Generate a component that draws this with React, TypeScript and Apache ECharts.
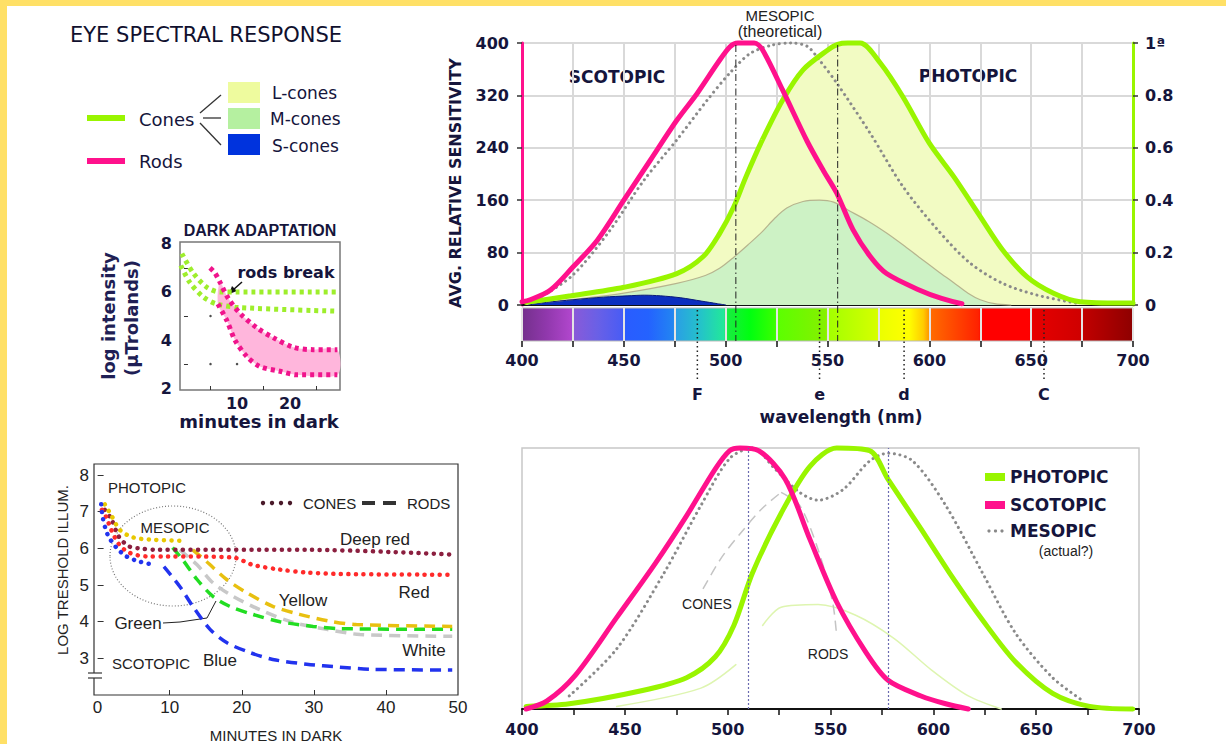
import React, { useEffect, useRef } from 'react';
import * as echarts from 'echarts';

const NAVY = '#15153c';
const PINK = '#ff118c';
const LIME = '#99f500';
const V = 'DejaVu Sans';
const A = 'Liberation Sans';

// ---------- Main spectral chart (x: nm, left y: 0-400) ----------
const rodsMain = [[400,5],[404,8],[414,23],[425,58],[437,99],[450,160],[463,221],[476,282],[486,323],[496,369],[502,394],[506,400],[514,400],[518,390],[528,328],[540,250],[548,205],[554.5,171],[562.5,115],[571,74],[579,48],[595,23],[606,10],[616,2]];
const photopicMain = [[402,4],[424,14],[450,27],[476,48],[489,74],[497,109],[504,150],[510,196],[518,252],[528,313],[538,359],[550,389],[555,398],[560,400],[566,400],[576,369],[587,318],[600,247],[612,196],[625,135],[636,84],[648,43],[661,18],[674,5],[694,3],[700,3]];
const mesopicTheoretical = [[405,5],[424,43],[442,109],[460,191],[476,252],[491,313],[502,354],[512,384],[523,397],[532,400],[540,395],[546,374],[554.5,339],[571,262],[587,181],[604,115],[620,64],[636,33],[653,15],[672,3]];
const mConesMain = [[404,2],[430,10],[450,18],[476,33],[490,45],[497,56],[504,73],[511,92],[518,112],[524,132],[530,148],[538,158],[546,160],[553,157],[560,145],[570,128],[579,110],[587,92],[595,73],[604,52],[612,34],[619,18],[625,8],[632,2],[640,0]];
const sConesMain = [[403,0],[412,4],[425,8],[440,12],[452,14],[460,15],[468,14],[478,11],[488,6],[496,2],[500,0]];
const mesopicMarks = [505, 555];
const spectrumStops: Array<[number, string]> = [
  [400,'#74308c'],[412,'#9038ac'],[424,'#b046cc'],[425,'#8a5ad8'],[437,'#6a60e6'],[449,'#4a5cf4'],[450,'#2a5cff'],[462,'#2462ff'],[474,'#2284f2'],[476,'#2aa0e4'],[488,'#24c4c8'],[499,'#22e89a'],[501,'#18ec40'],[512,'#00ff10'],[524,'#38ff00'],[526,'#5cff00'],[549,'#86f000'],[551,'#a4ff00'],[574,'#d4ff00'],[576,'#ecff00'],[590,'#ffff00'],[597,'#ffcc00'],[600,'#ff9400'],[601,'#ff6a00'],[624,'#ff2200'],[626,'#ff0000'],[649,'#ff0000'],[651,'#e60000'],[674,'#d00000'],[676,'#c00000'],[700,'#8e0000'],
];
const fraunhoferNm = [486.1, 546.1, 587.6, 656.3];
const fraunhoferLabels = ['F', 'e', 'd', 'C'];

// ---------- Small dark adaptation chart ----------
const daConesUpper = [[-0.4,7.6],[1.7,6.8],[4.3,6.2],[6.8,6.0],[10,6.0],[28.9,6.0]];
const daConesLower = [[-0.6,7.1],[1.1,6.4],[3.6,5.8],[6.2,5.5],[10.6,5.35],[28.9,5.2]];
const daRodsUpper = [[4.9,7.0],[5.8,6.8],[6.8,6.4],[8.3,5.75],[10.6,5.1],[13.8,4.5],[16.8,4.1],[20.6,3.7],[24.3,3.6],[28.9,3.6]];
const daRodsLower = [[6.4,5.5],[8.1,4.8],[9.6,4.0],[11.9,3.3],[14.3,2.9],[18.1,2.7],[21.3,2.55],[28.9,2.55]];
const daGridDots = [[5,5],[5,3],[10,3]];

// ---------- Threshold vs minutes in dark ----------
const blDeepRedCones = [[1,7.05],[1.9,6.8],[3,6.3],[4.4,6.05],[5.8,6.0],[8.2,5.96],[29,5.96],[49.2,5.83]];
const blRedCones = [[0.6,7.05],[1.2,6.85],[1.9,6.5],[3,6.1],[4.4,5.88],[6.8,5.78],[9.6,5.78],[18.8,5.75],[21.5,5.55],[25.3,5.42],[29,5.34],[33.6,5.3],[49.2,5.28]];
const blYellowCones = [[1,7.2],[1.9,6.9],[3.1,6.5],[4.9,6.3],[7.2,6.24],[12.3,6.2]];
const blYellowRods = [[13.2,5.96],[15.1,5.64],[17.9,5.15],[20.6,4.8],[24.3,4.42],[28,4.2],[32.6,4.0],[35.9,3.92],[49.2,3.87]];
const blBlueCones = [[0.5,7.2],[0.7,6.85],[1.4,6.37],[2.6,6.02],[4,5.78],[5.8,5.64],[7.9,5.55]];
const blBlueRods = [[9.2,5.5],[11.4,4.96],[13.2,4.42],[15.6,3.79],[17.9,3.43],[21.1,3.16],[24.3,2.97],[29,2.84],[33.6,2.76],[38.2,2.7],[49.2,2.68]];
const blGreenRods = [[10.4,6.02],[11.8,5.69],[13.8,5.15],[16,4.69],[18.3,4.42],[21.5,4.2],[25.3,4.0],[29.9,3.87],[33.6,3.81],[49.2,3.79]];
const blWhiteRods = [[11.4,5.96],[13.8,5.55],[16,5.06],[18.8,4.69],[22.5,4.33],[27.1,3.98],[31.8,3.79],[36.4,3.65],[49.2,3.6]];

// ---------- Photopic / scotopic / mesopic (0-1) ----------
const brScotopic = [[402,0],[412,0.03],[426,0.13],[446,0.35],[465,0.56],[480,0.74],[494,0.92],[501,0.99],[506,1],[515,0.99],[528,0.88],[540,0.65],[553,0.41],[567,0.22],[578,0.11],[594,0.05],[606,0.02],[617,0]];
const brPhotopic = [[402,0.01],[423,0.02],[458,0.07],[480,0.12],[494,0.2],[503,0.32],[512,0.52],[526,0.75],[540,0.93],[553,1.0],[569,0.99],[578,0.88],[594,0.69],[608,0.52],[624,0.34],[640,0.18],[658,0.06],[676,0.01],[697,0]];
const brMesopic = [[423,0.05],[446,0.23],[469,0.52],[487,0.78],[501,0.96],[512,1.0],[523,0.92],[535,0.83],[544,0.8],[556,0.84],[569,0.95],[578,0.98],[590,0.95],[606,0.78],[624,0.52],[640,0.29],[658,0.12],[673,0.03]];
const brConesDash = [[488,0.46],[497,0.58],[508,0.69],[517,0.77],[526,0.83]];
const brRodsDash = [[526,0.83],[535,0.78],[544,0.61],[551,0.41],[553,0.28]];
const brFaintLow = [[446,0.01],[487,0.08],[504,0.17]];
const brFaintHigh = [[517,0.32],[526,0.39],[544,0.4],[562,0.36],[581,0.27],[599,0.15],[617,0.05],[633,0]];
const brMarks = [510, 578];

const curve = (data: number[][], xi: number, yi: number, color: string, width: number, type: any = 'solid', cap: string = 'round', extra: any = {}) => ({
  type: 'line', xAxisIndex: xi, yAxisIndex: yi, data, showSymbol: false, symbol: 'none',
  smooth: 0.3, silent: true, clip: false,
  lineStyle: { color, width, type, cap },
  ...extra,
});

const DOTS = [0.1, 7.5];
const RDASH = [11, 7];

const txt = (x: number, y: number, text: string, font: string, fill: string = NAVY, align: string = 'center', rotation: number = 0) => ({
  type: 'text', x, y, rotation,
  style: { text, font, fill, align, verticalAlign: 'middle', textAlign: align, textVerticalAlign: 'middle' },
});

export default function App() {
  const ref = useRef<HTMLDivElement>(null);
  useEffect(() => {
    if (!ref.current) return;
    const chart = echarts.init(ref.current, undefined, { renderer: 'svg' });
    const boldLabel = { fontSize: 16, fontWeight: 'bold', fontFamily: V, color: NAVY };
    const option: any = {
      animation: false,
      backgroundColor: '#ffffff',
      textStyle: { fontFamily: V },
      grid: [
        { left: 522, top: 43, width: 611, height: 262, show: false, outerBoundsMode: 'none' },
        { left: 522, top: 308, width: 611, height: 33, show: false, outerBoundsMode: 'none' },
        { left: 522, top: 310, width: 611, height: 72, show: false, outerBoundsMode: 'none' },
        { left: 180, top: 242, width: 160, height: 148, show: true, borderColor: '#777', borderWidth: 1.5, outerBoundsMode: 'none' },
        { left: 94, top: 464, width: 364, height: 231, show: true, borderColor: '#333', borderWidth: 1.2, outerBoundsMode: 'none' },
        { left: 522, top: 448, width: 617, height: 261, show: true, borderColor: '#c8c8c8', borderWidth: 1.5, outerBoundsMode: 'none' },
      ],
      xAxis: [
        { gridIndex: 0, type: 'value', min: 400, max: 700, interval: 25, axisLabel: { show: false }, axisTick: { show: false },
          axisLine: { show: true, onZero: false, lineStyle: { color: '#111', width: 2 } },
          splitLine: { show: true, lineStyle: { color: '#d9d9d9', width: 2 } } },
        { gridIndex: 1, type: 'value', min: 400, max: 700, interval: 25, z: 10, axisLine: { show: false },
          axisTick: { show: true, length: 6, lineStyle: { color: '#111', width: 1.5 } },
          axisLabel: { show: true, margin: 11, ...boldLabel, formatter: (v: number) => (v % 50 === 0 ? String(v) : '') },
          splitLine: { show: true, lineStyle: { color: '#e4e4e4', width: 2 } } },
        { gridIndex: 2, type: 'value', min: 400, max: 700, show: false },
        { gridIndex: 3, type: 'value', min: -0.75, max: 29.4, axisLine: { show: false },
          axisTick: { show: true, inside: true, length: 4, customValues: [5, 15, 25], lineStyle: { color: '#333' } },
          axisLabel: { show: true, customValues: [10, 20], margin: 5, ...boldLabel },
          splitLine: { show: false } },
        { gridIndex: 4, type: 'value', min: -0.5, max: 50, axisLine: { show: false },
          axisTick: { show: true, inside: true, length: 5, customValues: [10, 20, 30, 40], lineStyle: { color: '#333' } },
          axisLabel: { show: true, customValues: [0, 10, 20, 30, 40, 50], margin: 4, fontSize: 17, fontFamily: A, color: '#222' },
          splitLine: { show: false } },
        { gridIndex: 5, type: 'value', min: 400, max: 700, interval: 25,
          axisLine: { show: true, onZero: false, lineStyle: { color: '#111', width: 2 } },
          axisTick: { show: true, length: 6, lineStyle: { color: '#111', width: 1.5 } },
          axisLabel: { show: true, margin: 12, ...boldLabel, formatter: (v: number) => (v % 50 === 0 ? String(v) : '') },
          splitLine: { show: false } },
      ],
      yAxis: [
        { gridIndex: 0, type: 'value', min: 0, max: 400, interval: 80, position: 'left',
          axisLine: { show: true, onZero: false, lineStyle: { color: PINK, width: 3 } },
          axisTick: { show: true, length: 5, lineStyle: { color: '#333', width: 1.5 } },
          axisLabel: { show: true, margin: 13, ...boldLabel },
          splitLine: { show: true, lineStyle: { color: '#d9d9d9', width: 2 } } },
        { gridIndex: 0, type: 'value', min: 0, max: 1, interval: 0.2, position: 'right',
          axisLine: { show: true, onZero: false, lineStyle: { color: LIME, width: 3 } },
          axisTick: { show: true, length: 5, lineStyle: { color: '#333', width: 1.5 } },
          axisLabel: { show: true, margin: 12, ...boldLabel, formatter: (v: number) => (v >= 0.999 ? '1ª' : v <= 0.001 ? '0' : v.toFixed(1)) },
          splitLine: { show: false } },
        { gridIndex: 1, type: 'value', min: 0, max: 1, show: false },
        { gridIndex: 2, type: 'value', min: 0, max: 1, show: false },
        { gridIndex: 3, type: 'value', min: 1.92, max: 8.08, axisLine: { show: false },
          axisTick: { show: true, inside: true, length: 4, customValues: [3, 5, 7], lineStyle: { color: '#333' } },
          axisLabel: { show: true, customValues: [2, 4, 6, 8], margin: 8, ...boldLabel },
          splitLine: { show: false } },
        { gridIndex: 4, type: 'value', min: 2, max: 8.3, axisLine: { show: false },
          axisTick: { show: true, inside: true, length: 6, customValues: [3, 4, 5, 6, 7, 8], lineStyle: { color: '#333' } },
          axisLabel: { show: true, customValues: [3, 4, 5, 6, 7, 8], margin: 5, fontSize: 17, fontFamily: A, color: '#222' },
          splitLine: { show: false } },
        { gridIndex: 5, type: 'value', min: 0, max: 1, show: false },
      ],
      series: [
        curve(photopicMain, 0, 0, LIME, 0, 'solid', 'round', { areaStyle: { color: '#f2fbc3', opacity: 1 } }),
        curve(mConesMain, 0, 0, '#b6b48e', 1.2, 'solid', 'round', { areaStyle: { color: '#cdf2c5', opacity: 1 } }),
        curve(sConesMain, 0, 0, '#0a1a7a', 1, 'solid', 'round', { areaStyle: { color: '#0b2fbf', opacity: 1 } }),
        curve(mesopicTheoretical, 0, 0, '#8a8a8a', 3, [0.1, 5.5], 'round'),
        curve(photopicMain, 0, 0, LIME, 5),
        curve(rodsMain, 0, 0, PINK, 5),
        {
          type: 'custom', xAxisIndex: 0, yAxisIndex: 0, silent: true, z: 5,
          data: mesopicMarks.map((v) => [v, 200]),
          renderItem: (params: any, api: any) => {
            const x = api.value(0);
            const t = api.coord([x, 400]);
            const b = api.coord([x, 0]);
            return { type: 'line', shape: { x1: t[0], y1: t[1] + 2, x2: b[0], y2: b[1] + 36 },
              style: { stroke: '#222', lineWidth: 1, lineDash: [7, 3, 1.5, 3] } };
          },
        },
        {
          type: 'custom', xAxisIndex: 1, yAxisIndex: 2, silent: true, z: 1,
          data: [[550, 0.5]],
          renderItem: (params: any, api: any) => {
            const p0 = api.coord([400, 1]);
            const p1 = api.coord([700, 0]);
            return {
              type: 'rect',
              shape: { x: p0[0], y: p0[1], width: p1[0] - p0[0], height: p1[1] - p0[1] },
              style: {
                fill: new echarts.graphic.LinearGradient(0, 0, 1, 0,
                  spectrumStops.map(([nm, c]) => ({ offset: (nm - 400) / 300, color: c }))),
                stroke: '#bbbbbb', lineWidth: 1,
              },
            };
          },
        },
        {
          type: 'custom', xAxisIndex: 2, yAxisIndex: 3, silent: true, z: 20,
          data: fraunhoferNm.map((v) => [v, 0.5]),
          renderItem: (params: any, api: any) => {
            const x = api.value(0);
            const t = api.coord([x, 1]);
            const b = api.coord([x, 0]);
            return {
              type: 'group',
              children: [
                { type: 'line', shape: { x1: t[0], y1: t[1], x2: b[0], y2: b[1] }, style: { stroke: '#222', lineWidth: 1.5, lineDash: [1.5, 3] } },
                { type: 'text', style: { text: fraunhoferLabels[params.dataIndex], x: b[0], y: b[1] + 12, align: 'center', verticalAlign: 'middle', font: `bold 16px "${V}"`, fill: NAVY } },
              ],
            };
          },
        },
        {
          type: 'scatter', xAxisIndex: 3, yAxisIndex: 4, data: daGridDots, symbol: 'circle', symbolSize: 2.5,
          itemStyle: { color: '#222' }, silent: true,
        },
        {
          type: 'custom', xAxisIndex: 3, yAxisIndex: 4, silent: true, z: 1,
          data: [[15, 4]],
          renderItem: (params: any, api: any) => {
            const up = daRodsUpper.filter((p) => p[0] >= 6.8).map((p) => api.coord(p));
            const lo = daRodsLower.slice().reverse().map((p) => api.coord(p));
            return { type: 'polygon', shape: { points: [...up, ...lo], smooth: 0.3 }, style: { fill: '#ffb6dc' } };
          },
        },
        curve(daConesUpper, 3, 4, '#9eee2c', 5, [4, 4], 'butt'),
        curve(daConesLower, 3, 4, '#9eee2c', 5, [4, 4], 'butt'),
        curve(daRodsUpper, 3, 4, '#f0148c', 5, [4, 4], 'butt'),
        curve(daRodsLower, 3, 4, '#f0148c', 5, [4, 4], 'butt'),
        curve(blWhiteRods, 4, 5, '#c8c8c8', 3.5, RDASH, 'butt'),
        curve(blGreenRods, 4, 5, '#22dd22', 3.5, RDASH, 'butt'),
        curve(blYellowRods, 4, 5, '#e8c010', 3.5, RDASH, 'butt'),
        curve(blBlueRods, 4, 5, '#2233ee', 3.5, RDASH, 'butt'),
        curve(blDeepRedCones, 4, 5, '#8b1f3f', 4.5, DOTS),
        curve(blRedCones, 4, 5, '#ff2a2a', 4.5, DOTS),
        curve(blYellowCones, 4, 5, '#e8c800', 4.5, DOTS),
        curve(blBlueCones, 4, 5, '#2233ee', 4.5, DOTS),
        curve(brFaintLow, 5, 6, '#def5b0', 1.5),
        curve(brFaintHigh, 5, 6, '#def5b0', 1.5),
        curve(brConesDash, 5, 6, '#c4c4c4', 1.5, [10, 6], 'butt'),
        curve(brRodsDash, 5, 6, '#c4c4c4', 1.5, [10, 6], 'butt'),
        curve(brMesopic, 5, 6, '#8a8a8a', 3, [0.1, 5.5], 'round'),
        curve(brPhotopic, 5, 6, LIME, 5),
        curve(brScotopic, 5, 6, PINK, 5, 'solid', 'round', {
          markLine: {
            symbol: ['none', 'none'], silent: true, label: { show: false },
            lineStyle: { type: [2, 2], color: '#6b6bb0', width: 1.2 },
            data: brMarks.map((v) => ({ xAxis: v })),
          },
        }),
      ],
      graphic: {
        silent: true,
        elements: [
          { type: 'rect', shape: { x: 0, y: 0, width: 1226, height: 6 }, style: { fill: '#ffe066' } },
          { type: 'rect', shape: { x: 0, y: 0, width: 7, height: 744 }, style: { fill: '#ffe066' } },
          txt(206, 35, 'EYE SPECTRAL RESPONSE', `21px "${V}"`, '#10102e'),
          { type: 'rect', shape: { x: 87, y: 115, width: 38, height: 6 }, style: { fill: LIME } },
          txt(139, 119, 'Cones', `18px "${V}"`, NAVY, 'left'),
          { type: 'rect', shape: { x: 87, y: 158, width: 38, height: 6 }, style: { fill: PINK } },
          txt(139, 161, 'Rods', `18px "${V}"`, NAVY, 'left'),
          { type: 'line', shape: { x1: 200, y1: 113, x2: 221, y2: 95 }, style: { stroke: '#333', lineWidth: 1.3 } },
          { type: 'line', shape: { x1: 203, y1: 118, x2: 221, y2: 118 }, style: { stroke: '#333', lineWidth: 1.3 } },
          { type: 'line', shape: { x1: 200, y1: 123, x2: 221, y2: 145 }, style: { stroke: '#333', lineWidth: 1.3 } },
          { type: 'rect', shape: { x: 228, y: 82, width: 32, height: 21 }, style: { fill: '#eefb9e' } },
          { type: 'rect', shape: { x: 228, y: 108, width: 32, height: 21 }, style: { fill: '#b5f0a0' } },
          { type: 'rect', shape: { x: 228, y: 134, width: 32, height: 21 }, style: { fill: '#0033dd' } },
          txt(272, 93, 'L-cones', `17px "${V}"`, NAVY, 'left'),
          txt(270, 119, 'M-cones', `17px "${V}"`, NAVY, 'left'),
          txt(272, 146, 'S-cones', `17px "${V}"`, NAVY, 'left'),
          txt(260, 230, 'DARK ADAPTATION', `bold 16px "${A}"`),
          txt(286, 272, 'rods break', `bold 16px "${V}"`),
          { type: 'line', shape: { x1: 242, y1: 282, x2: 233, y2: 290 }, style: { stroke: '#111', lineWidth: 1.5 } },
          { type: 'polygon', shape: { points: [[229, 294], [232, 286], [237, 291]] }, style: { fill: '#111' } },
          txt(259, 421, 'minutes in dark', `bold 18px "${V}"`),
          txt(108, 316, 'log intensity', `bold 18px "${V}"`, '#1f1f55', 'center', Math.PI / 2),
          txt(131, 318, '(µTrolands)', `bold 18px "${V}"`, '#1f1f55', 'center', Math.PI / 2),
          txt(780, 15, 'MESOPIC', `15px "${A}"`, '#222'),
          txt(780, 31, '(theoretical)', `16px "${A}"`, '#222'),
          txt(617, 77, 'SCOTOPIC', `bold 17px "${V}"`),
          txt(968, 76, 'PHOTOPIC', `bold 17px "${V}"`),
          txt(455, 183, 'AVG. RELATIVE SENSITIVITY', `bold 16px "${V}"`, NAVY, 'center', Math.PI / 2),
          txt(841, 417, 'wavelength (nm)', `bold 17px "${V}"`),
          { type: 'rect', shape: { x: 91, y: 673, width: 8, height: 5 }, style: { fill: '#ffffff' } },
          { type: 'line', shape: { x1: 88, y1: 673, x2: 102, y2: 673 }, style: { stroke: '#333', lineWidth: 1.2 } },
          { type: 'line', shape: { x1: 88, y1: 678, x2: 102, y2: 678 }, style: { stroke: '#333', lineWidth: 1.2 } },
          txt(62, 570, 'LOG TRESHOLD ILLUM.', `15px "${A}"`, '#222', 'center', Math.PI / 2),
          txt(276, 735, 'MINUTES IN DARK', `15px "${A}"`, '#222'),
          txt(147, 487, 'PHOTOPIC', `15px "${A}"`, '#222'),
          txt(175, 527, 'MESOPIC', `15px "${A}"`, '#222'),
          txt(151, 663, 'SCOTOPIC', `15px "${A}"`, '#222'),
          txt(375, 539, 'Deep red', `17px "${A}"`, '#222'),
          txt(414, 592, 'Red', `17px "${A}"`, '#222'),
          txt(303, 600, 'Yellow', `17px "${A}"`, '#222'),
          txt(138, 623, 'Green', `17px "${A}"`, '#222'),
          txt(424, 650, 'White', `17px "${A}"`, '#222'),
          txt(220, 660, 'Blue', `17px "${A}"`, '#222'),
          { type: 'circle', shape: { cx: 263, cy: 503, r: 2.2 }, style: { fill: '#4a1a2a' } },
          { type: 'circle', shape: { cx: 272, cy: 503, r: 2.2 }, style: { fill: '#4a1a2a' } },
          { type: 'circle', shape: { cx: 281, cy: 503, r: 2.2 }, style: { fill: '#4a1a2a' } },
          { type: 'circle', shape: { cx: 290, cy: 503, r: 2.2 }, style: { fill: '#4a1a2a' } },
          txt(303, 503, 'CONES', `15px "${A}"`, '#222', 'left'),
          { type: 'rect', shape: { x: 362, y: 501, width: 13, height: 4 }, style: { fill: '#333' } },
          { type: 'rect', shape: { x: 383, y: 501, width: 13, height: 4 }, style: { fill: '#333' } },
          txt(407, 503, 'RODS', `15px "${A}"`, '#222', 'left'),
          { type: 'ellipse', shape: { cx: 173, cy: 556, rx: 63, ry: 50 }, style: { fill: 'none', stroke: '#777', lineWidth: 1.2, lineDash: [1, 2] } },
          { type: 'polyline', shape: { points: [[163, 623], [180, 622], [207, 618], [216, 601]] }, style: { fill: 'none', stroke: '#222', lineWidth: 1 } },
          txt(707, 604, 'CONES', `14px "${A}"`, '#222'),
          txt(828, 654, 'RODS', `14px "${A}"`, '#222'),
          { type: 'rect', shape: { x: 985, y: 473, width: 20, height: 8 }, style: { fill: LIME } },
          txt(1010, 477, 'PHOTOPIC', `bold 17px "${V}"`, NAVY, 'left'),
          { type: 'rect', shape: { x: 985, y: 501, width: 20, height: 8 }, style: { fill: PINK } },
          txt(1010, 505, 'SCOTOPIC', `bold 17px "${V}"`, NAVY, 'left'),
          { type: 'circle', shape: { cx: 989, cy: 531, r: 1.6 }, style: { fill: '#888' } },
          { type: 'circle', shape: { cx: 995.5, cy: 531, r: 1.6 }, style: { fill: '#888' } },
          { type: 'circle', shape: { cx: 1002, cy: 531, r: 1.6 }, style: { fill: '#888' } },
          txt(1010, 531, 'MESOPIC', `bold 17px "${V}"`, NAVY, 'left'),
          txt(1066, 551, '(actual?)', `14px "${A}"`, '#222'),
        ],
      },
    };
    chart.setOption(option);
    return () => chart.dispose();
  }, []);
  return <div ref={ref} style={{ position: 'absolute', left: 0, top: 0, width: 1226, height: 744, background: '#fff' }} />;
}
